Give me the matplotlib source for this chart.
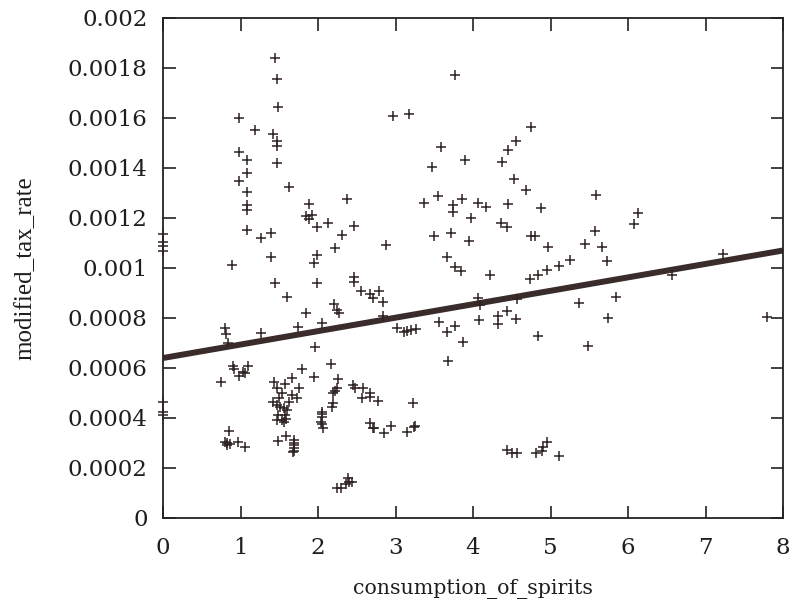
import matplotlib
matplotlib.use("Agg")
import matplotlib.pyplot as plt

# consumption_of_spirits (x) and modified_tax_rate (y) per observation
spirits = [
    1.45, 1.47, 1.49, 0.985, 1.19, 1.42, 1.47, 1.47, 0.985, 1.09, 1.475, 1.09, 0.985,
    1.09, 1.62, 1.09, 1.09, 1.89, 1.845, 1.92, 1.89, 1.99, 1.09, 1.27, 1.39,
    0.0, 0.0, 0.0, 0.0, 1.39, 1.99, 1.95, 0.886, 1.44, 1.99, 1.6, 1.845, 1.74,
    0.796, 0.809, 1.27, 0.843, 1.965,
    0.907, 0.916, 0.977, 1.028, 1.054, 1.10, 0.748, 1.79, 1.95, 1.43, 1.66, 1.57,
    1.47, 1.76, 1.53, 1.67, 1.725, 1.50, 1.415, 1.626, 1.467, 1.51, 1.561, 1.596,
    1.488, 1.574, 1.467, 1.531, 1.587, 1.561, 0.0, 0.0, 0.0, 0.856, 0.80, 0.83,
    0.86, 0.83, 0.972, 1.062, 1.488, 1.587, 1.69, 1.69, 1.69, 1.69, 1.69, 1.68,
    3.768, 2.968, 3.17, 3.587, 3.471, 3.901,
    2.37, 2.133, 2.469, 2.306, 2.219, 2.873, 2.469, 2.469, 2.555, 2.671, 2.706,
    2.787, 2.835, 2.206, 2.249, 2.275, 2.048, 2.835, 3.023, 3.11, 3.152, 3.196,
    3.265, 3.368, 3.552, 3.738, 3.738, 3.854, 4.06, 3.97, 3.501, 3.716, 3.953,
    3.66, 3.768, 3.841, 4.06, 4.082, 3.565, 3.768, 3.66, 3.867,
    2.168, 2.254, 2.241, 2.219, 2.19, 2.198, 2.176, 2.055, 2.055, 2.05, 2.045,
    2.05, 2.06, 2.456, 2.477, 2.577, 2.563, 2.671, 2.671, 2.779, 3.222, 3.673,
    2.671, 2.706, 2.723, 2.852, 2.938, 3.144, 3.239, 3.252, 2.249, 2.293, 2.361,
    2.391, 2.435, 2.404,
    4.748, 4.555, 4.456, 4.37, 4.533, 4.684, 5.583, 4.168, 4.456, 4.877, 4.361,
    4.435, 5.574, 4.748, 4.8, 4.972, 5.445, 5.668,
    5.252, 5.114, 4.951, 4.843, 4.735, 4.219, 5.733, 4.09, 4.563, 4.435, 4.318,
    4.318, 4.555, 4.834, 5.368, 5.845, 5.746, 5.48, 4.435, 4.499, 4.564, 4.813,
    4.886, 4.907, 4.951, 5.114,
    6.133, 6.082, 7.23, 6.564, 7.79,
]

tax_rate = [
    0.00184, 0.001757, 0.001644, 0.001601, 0.001551, 0.001536, 0.001509, 0.001489,
    0.001464, 0.001431, 0.001421, 0.00138, 0.001348,
    0.001305, 0.001323, 0.001253, 0.001232, 0.001256, 0.001209, 0.001213, 0.001195,
    0.001163, 0.001152, 0.00112, 0.001139,
    0.001136, 0.001104, 0.001088, 0.001069, 0.001043, 0.001053, 0.001019, 0.001012,
    0.000939, 0.000939, 0.000885, 0.000821, 0.000765,
    0.000759, 0.000736, 0.000739, 0.000701, 0.000685,
    0.000609, 0.000596, 0.000569, 0.000585, 0.00058, 0.000609, 0.000543, 0.000596,
    0.000564, 0.000545, 0.000561, 0.000535,
    0.000519, 0.000519, 0.000499, 0.000492, 0.000479, 0.000479, 0.000463, 0.000463,
    0.000452, 0.000445, 0.000439, 0.000432,
    0.000412, 0.000412, 0.000392, 0.000392, 0.000396, 0.000383, 0.000463, 0.000425,
    0.000412, 0.000348, 0.000303, 0.0003,
    0.000298, 0.000292, 0.000305, 0.000285, 0.000309, 0.000329, 0.000311, 0.000301,
    0.000292, 0.000281, 0.000268, 0.000264,
    0.001772, 0.001608, 0.001616, 0.001483, 0.001404, 0.001431,
    0.001276, 0.001179, 0.001169, 0.001132, 0.001079, 0.001091, 0.000965, 0.000945,
    0.000909, 0.000896, 0.000879,
    0.000908, 0.000863, 0.000855, 0.000832, 0.000819, 0.000779, 0.000808, 0.000761,
    0.000745, 0.000749, 0.000752,
    0.000755, 0.001261, 0.001288, 0.001252, 0.001225, 0.001276, 0.001261, 0.001199,
    0.001128, 0.001139, 0.001108,
    0.001045, 0.001003, 0.000988, 0.000879, 0.000792, 0.000785, 0.000768, 0.000743,
    0.000703,
    0.000615, 0.000555, 0.000519, 0.000508, 0.000501, 0.000459, 0.000445, 0.000425,
    0.000415, 0.000405, 0.000385,
    0.000375, 0.000361, 0.000532, 0.000521, 0.000521, 0.000481, 0.000499, 0.000485,
    0.000469, 0.000461, 0.000628,
    0.000379, 0.000361, 0.000359, 0.000341, 0.000368, 0.000345, 0.000365, 0.000369,
    0.000121, 0.000121, 0.000135,
    0.000159, 0.000145, 0.000143,
    0.001565, 0.001509, 0.001472, 0.001425, 0.001355, 0.001312, 0.001291, 0.001245,
    0.001255, 0.00124, 0.001179,
    0.001165, 0.001148, 0.001128, 0.001128, 0.001085, 0.001095, 0.001085,
    0.001032, 0.001008, 0.000992, 0.000972, 0.000955, 0.000972, 0.001028, 0.000852,
    0.000875, 0.000828, 0.000808,
    0.000775, 0.000796, 0.000728, 0.000859, 0.000883, 0.000801, 0.000688, 0.000272,
    0.000259, 0.000259, 0.000261,
    0.000269, 0.000285, 0.000303, 0.000248,
    0.001221, 0.001175, 0.001056, 0.000972, 0.000805,
]

# least-squares trend line
fit_intercept = 0.00064
fit_slope = 0.00005375
fit_x = [0.0, 8.0]

x_ticks = [0, 1, 2, 3, 4, 5, 6, 7, 8]
y_ticks = [0, 0.0002, 0.0004, 0.0006, 0.0008, 0.001, 0.0012, 0.0014, 0.0016, 0.0018, 0.002]
y_tick_labels = ["0", "0.0002", "0.0004", "0.0006", "0.0008", "0.001", "0.0012",
                 "0.0014", "0.0016", "0.0018", "0.002"]

fig = plt.figure(figsize=(7.89, 6.02), dpi=100)
ax = fig.add_axes([163 / 789, 1 - 518 / 602, 620 / 789, 500 / 602])

fit_y = [fit_intercept + fit_slope * v for v in fit_x]
ax.plot(fit_x, fit_y, color="#3b2c2c", linewidth=4.3, solid_capstyle="butt", zorder=2)
ax.plot(spirits, tax_rate, linestyle="none", marker="+", markersize=6.5,
        markeredgewidth=1.1, color="#2e2222", clip_on=False, zorder=3)

ax.set_xlim(0, 8)
ax.set_ylim(0, 0.002)
ax.set_xticks(x_ticks)
ax.set_xticklabels([str(t) for t in x_ticks])
ax.set_yticks(y_ticks)
ax.set_yticklabels(y_tick_labels)

for spine in ax.spines.values():
    spine.set_linewidth(1.3)
    spine.set_color("#222222")

ax.tick_params(axis="both", which="major", direction="in", length=9, width=1.2,
               color="#222222", top=True, right=True, labelcolor="#1e1e1e")
ax.tick_params(axis="x", pad=14)
ax.tick_params(axis="y", pad=11)
for lbl in ax.get_xticklabels() + ax.get_yticklabels():
    lbl.set_fontfamily("DejaVu Serif")
    lbl.set_fontsize(16.5)

ax.set_xlabel("consumption_of_spirits", fontfamily="DejaVu Serif", fontsize=14.8,
              color="#1e1e1e")
ax.xaxis.set_label_coords(0.5, -0.142)
ax.xaxis.label.set_va("center")
ax.set_ylabel("modified_tax_rate", fontfamily="Liberation Serif", fontsize=18,
              color="#1e1e1e")
ax.yaxis.set_label_coords(-0.2226, 0.5)
ax.yaxis.label.set_va("center")

fig.savefig("out.png", dpi=100, facecolor="white")
